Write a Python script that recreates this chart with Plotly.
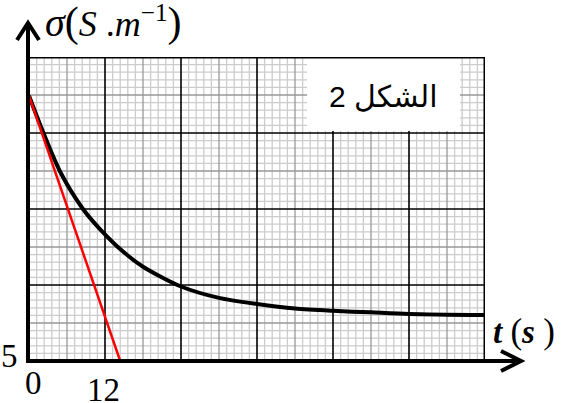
import plotly.graph_objects as go

# ---- data ----
t_curve = [0, 1.9, 4.1, 7.1, 9.3, 12.6, 15, 20, 25, 30, 35, 40, 45, 50, 60]
sigma_curve = [8.49, 8.00, 7.49, 7.00, 6.74, 6.42, 6.24, 5.98, 5.83, 5.75, 5.69, 5.66, 5.64, 5.62, 5.605]
t_tangent = [0, 12]
sigma_tangent = [8.49, 5.0]
tick_labels = {"x0": "0", "x12": "12", "y0": "5"}

X_RANGE = [0, 60]
Y_RANGE = [5, 9]

W, H = 571, 403
L, R, T, B = 29, 86, 57, 42
PW, PH = W - L - R, H - T - B


def px(xp):
    return (xp - L) / PW


def py(yp):
    return (H - B - yp) / PH


def dx(xp):
    return X_RANGE[0] + px(xp) * (X_RANGE[1] - X_RANGE[0])


def dy(yp):
    return Y_RANGE[0] + py(yp) * (Y_RANGE[1] - Y_RANGE[0])


fig = go.Figure()
fig.add_trace(go.Scatter(x=t_curve, y=sigma_curve, mode="lines",
                         line=dict(color="black", width=4, shape="spline", smoothing=0.8),
                         hoverinfo="skip", showlegend=False))
fig.add_trace(go.Scatter(x=t_tangent, y=sigma_tangent, mode="lines",
                         line=dict(color="#ff0000", width=2.5),
                         hoverinfo="skip", showlegend=False))

shapes = []
LIGHT, MID, MAJOR = "#cccccc", "#999999", "#000000"
levels = [(LIGHT, 1.3), (MID, 1.3), (MAJOR, 1.6)]


def level_x(i):
    return 2 if i % 10 == 0 else (1 if i % 5 == 0 else 0)


for lev, (col, w) in enumerate(levels):
    for i in range(X_RANGE[0], X_RANGE[1] + 1):
        if level_x(i) == lev:
            shapes.append(dict(type="line", xref="x", yref="y", x0=i, x1=i,
                               y0=Y_RANGE[0], y1=Y_RANGE[1], layer="below",
                               line=dict(color=col, width=w)))
    for j in range(0, 41):
        if level_x(j) == lev:
            yv = Y_RANGE[0] + j * 0.1
            shapes.append(dict(type="line", xref="x", yref="y", x0=X_RANGE[0], x1=X_RANGE[1],
                               y0=yv, y1=yv, layer="below",
                               line=dict(color=col, width=w)))

# white label box
shapes.append(dict(type="rect", xref="x", yref="y", x0=dx(307), x1=dx(460),
                   y0=dy(131), y1=dy(58), fillcolor="white", line=dict(width=0), layer="below"))
# top and right frame
shapes.append(dict(type="line", xref="x", yref="y", x0=X_RANGE[0], x1=X_RANGE[1], y0=Y_RANGE[1], y1=Y_RANGE[1],
                   line=dict(color="black", width=3), layer="below"))
shapes.append(dict(type="line", xref="x", yref="y", x0=X_RANGE[1], x1=X_RANGE[1], y0=Y_RANGE[0], y1=Y_RANGE[1],
                   line=dict(color="black", width=3), layer="below"))
# thick axes with open arrows
shapes.append(dict(type="line", xref="paper", yref="paper", x0=px(28), x1=px(28), y0=py(363), y1=py(23),
                   line=dict(color="black", width=4), layer="above"))
shapes.append(dict(type="path", xref="paper", yref="paper",
                   path=f"M {px(17)},{py(40)} L {px(28)},{py(23)} L {px(39)},{py(40)}",
                   line=dict(color="black", width=4), layer="above"))
shapes.append(dict(type="line", xref="paper", yref="paper", x0=px(26), x1=px(521), y0=py(361), y1=py(361),
                   line=dict(color="black", width=4), layer="above"))
shapes.append(dict(type="path", xref="paper", yref="paper",
                   path=f"M {px(501)},{py(351)} L {px(521)},{py(361)} L {px(501)},{py(371)}",
                   line=dict(color="black", width=4), layer="above"))

SERIF = "Liberation Serif, Times New Roman, serif"
ann = []
ann.append(dict(xref="paper", yref="paper", x=px(43), y=py(23), xanchor="left", yanchor="middle",
                text="<i><span style='font-size:40px'>σ</span></i><span style='font-size:42px'>(</span><i>S</i> .<i>m</i><sup>−1</sup><span style='font-size:42px'>)</span>",
                showarrow=False, font=dict(family=SERIF, size=36, color="black")))
ann.append(dict(xref="paper", yref="paper", x=px(491), y=py(331), xanchor="left", yanchor="middle",
                text="<b><i>t</i></b> <span style='font-size:35px'>(</span><b><i>s</i></b> <span style='font-size:35px'>)</span>",
                showarrow=False, font=dict(family=SERIF, size=33, color="black")))
ann.append(dict(xref="paper", yref="paper", x=px(33), y=py(383), xanchor="center", yanchor="middle",
                text=tick_labels["x0"], showarrow=False, font=dict(family=SERIF, size=33, color="black")))
ann.append(dict(xref="paper", yref="paper", x=px(103), y=py(390), xanchor="center", yanchor="middle",
                text=tick_labels["x12"], showarrow=False, font=dict(family=SERIF, size=33, color="black")))
ann.append(dict(xref="paper", yref="paper", x=px(9), y=py(356), xanchor="center", yanchor="middle",
                text=tick_labels["y0"], showarrow=False, font=dict(family=SERIF, size=33, color="black")))
ann.append(dict(xref="paper", yref="paper", x=px(383.5), y=py(97), xanchor="center", yanchor="middle",
                text="2 الشكل", showarrow=False,
                font=dict(family="Liberation Sans, Arial, DejaVu Sans, sans-serif", size=30, color="black")))

fig.update_layout(
    width=W, height=H, autosize=False,
    margin=dict(l=L, r=R, t=T, b=B, pad=0),
    paper_bgcolor="white", plot_bgcolor="white",
    xaxis=dict(range=X_RANGE, visible=False, fixedrange=True),
    yaxis=dict(range=Y_RANGE, visible=False, fixedrange=True),
    shapes=shapes, annotations=ann, showlegend=False,
)
fig.write_html("out.html", config={"displayModeBar": False},
               post_script="document.body.style.margin='0px';document.body.style.overflow='hidden';")
